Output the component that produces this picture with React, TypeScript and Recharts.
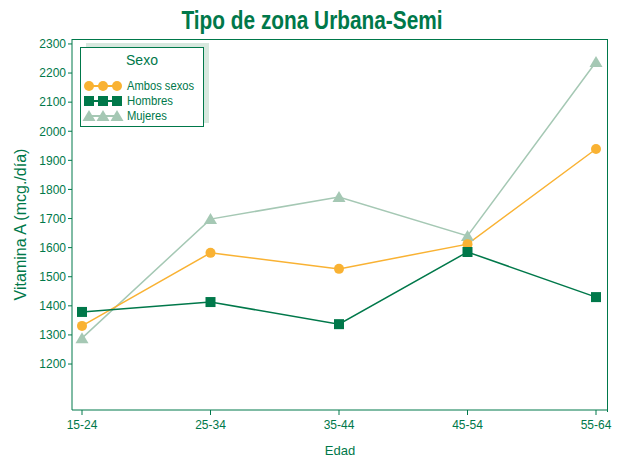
import React from 'react';
import { LineChart, Line, XAxis, YAxis, Label } from 'recharts';

const ages = ['15-24', '25-34', '35-44', '45-54', '55-64'];
const ambos = [1331, 1582, 1527, 1612, 1939];
const hombres = [1379, 1413, 1337, 1585, 1430];
const mujeres = [1289, 1698, 1774, 1640, 2238];
const yTicks = [1200, 1300, 1400, 1500, 1600, 1700, 1800, 1900, 2000, 2100, 2200, 2300];

const data = ages.map((a, i) => ({ age: a, ambos: ambos[i], hombres: hombres[i], mujeres: mujeres[i] }));

const C_AMBOS = '#F9B233';
const C_HOMBRES = '#00784A';
const C_MUJERES = '#A5C8B4';
const TXT = '#00784A';
const FONT = '"Liberation Sans", Arial, sans-serif';

const Circle = (p: any) => <circle cx={p.cx} cy={p.cy} r={5} fill={C_AMBOS} />;
const Square = (p: any) => <rect x={p.cx - 5} y={p.cy - 5} width={10} height={10} fill={C_HOMBRES} />;
const Tri = (p: any) => (
  <polygon points={`${p.cx},${p.cy - 6} ${p.cx - 6.5},${p.cy + 5} ${p.cx + 6.5},${p.cy + 5}`} fill={C_MUJERES} />
);

const legendItems = [
  { name: 'Ambos sexos', color: C_AMBOS, shape: 'c', w: 67 },
  { name: 'Hombres', color: C_HOMBRES, shape: 's', w: 46 },
  { name: 'Mujeres', color: C_MUJERES, shape: 't', w: 40 },
];

const LegendBox = () => (
  <div style={{ position: 'absolute', left: 80, top: 43, width: 130, height: 86 }}>
    <div style={{ position: 'absolute', left: 6, top: 0, width: 123, height: 80, background: '#D7E8DE' }} />
    <div style={{ position: 'absolute', left: 0, top: 4, width: 122, height: 78, background: '#fff', border: `1px solid ${TXT}` }}>
      <div style={{ textAlign: 'center', color: TXT, fontFamily: FONT, fontSize: 14, marginTop: 4 }}>Sexo</div>
      <svg width={122} height={50} style={{ position: 'absolute', left: 0, top: 31 }}>
        {legendItems.map((it, i) => {
          const y = 7 + i * 15;
          return (
            <g key={it.name}>
              <line x1={8} x2={36} y1={y} y2={y} stroke={it.color} strokeWidth={2} />
              {[8, 22, 36].map((x) =>
                it.shape === 'c' ? <circle key={x} cx={x} cy={y} r={5} fill={it.color} /> :
                it.shape === 's' ? <rect key={x} x={x - 5} y={y - 5} width={10} height={10} fill={it.color} /> :
                <polygon key={x} points={`${x},${y - 6} ${x - 6.5},${y + 5} ${x + 6.5},${y + 5}`} fill={it.color} />
              )}
              <text x={46} y={y + 4} fontSize={12} fontFamily={FONT} fill={TXT} textLength={it.w} lengthAdjust="spacingAndGlyphs">{it.name}</text>
            </g>
          );
        })}
      </svg>
    </div>
  </div>
);

export default function App() {
  return (
    <div style={{ position: 'absolute', left: 0, top: 0, width: 620, height: 460, background: '#fff' }}>
      <svg width={620} height={36} style={{ position: 'absolute', left: 0, top: 0 }}>
        <text x={312} y={29} textAnchor="middle" fill={TXT} fontFamily={FONT} fontWeight="bold" fontSize={26}
          textLength={261} lengthAdjust="spacingAndGlyphs">Tipo de zona Urbana-Semi</text>
      </svg>
      <div style={{ position: 'absolute', left: 72, top: 39, width: 535, height: 372, border: `1px solid ${TXT}`, borderLeft: 'none', borderBottom: 'none' }} />
      <div style={{ position: 'absolute', left: 0, top: 0 }}>
        <LineChart width={620} height={460} data={data} margin={{ top: 39, right: 12, bottom: 18, left: 0 }}>
          <XAxis dataKey="age" height={32} stroke={TXT} padding={{ left: 10, right: 12 }} tickSize={5}
            tick={{ fill: TXT, fontSize: 12, fontFamily: FONT, dy: 3 }} interval={0}>
            <Label value="Edad" position="insideBottom" offset={-13} fill={TXT} fontSize={13} fontFamily={FONT} />
          </XAxis>
          <YAxis width={72} stroke={TXT} domain={[1042, 2317]} ticks={yTicks} tickSize={4} interval={0}
            tick={{ fill: TXT, fontSize: 12, fontFamily: FONT }}>
            <Label value="Vitamina A (mcg./día)" angle={-90} position="insideLeft" offset={20} fill={TXT} fontSize={16} fontFamily={FONT} style={{ textAnchor: 'middle' }} />
          </YAxis>
          <Line dataKey="mujeres" stroke={C_MUJERES} strokeWidth={1.5} dot={<Tri />} isAnimationActive={false} />
          <Line dataKey="ambos" stroke={C_AMBOS} strokeWidth={1.5} dot={<Circle />} isAnimationActive={false} />
          <Line dataKey="hombres" stroke={C_HOMBRES} strokeWidth={1.5} dot={<Square />} isAnimationActive={false} />
        </LineChart>
      </div>
      <LegendBox />
    </div>
  );
}
